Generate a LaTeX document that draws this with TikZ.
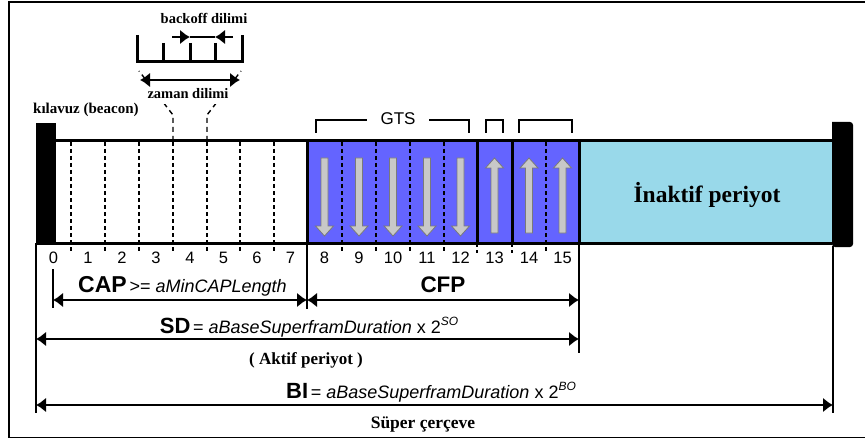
\documentclass[tikz,border=0pt]{standalone}
\usepackage{fontspec}
\setmainfont{Liberation Serif}
\setsansfont{Liberation Sans}
\usetikzlibrary{arrows.meta}

\definecolor{gtsblue}{HTML}{6464FF}
\definecolor{idleblue}{HTML}{99D9EA}
\definecolor{slotgray}{HTML}{C8C8C8}
\definecolor{slotedge}{HTML}{7A7A7A}
\newcommand{\fsz}[1]{\fontsize{#1}{#1}\selectfont}

\begin{document}
\begin{tikzpicture}[x=1pt,y=-1pt,
  thickline/.style={line width=3pt},
  longline/.style={line width=2.4pt},
  slotsep/.style={line width=1.4pt, dash pattern=on 4pt off 3pt},
  zoomline/.style={line width=1.4pt, dash pattern=on 5pt off 4pt},
  tipL/.style={-{Latex[length=10pt,width=15pt]}},
  dimarrow/.style={line width=2.4pt, {Latex[length=10pt,width=15pt]}-{Latex[length=10pt,width=15pt]}},
  serifbold/.style={font=\bfseries, inner sep=1pt},
  numlabel/.style={font=\sffamily\fsz{16.5}, anchor=base, inner sep=0pt},
  gtsarrow/.style={fill=slotgray, draw=slotedge, line width=0.8pt},
]
\useasboundingbox (0,0) rectangle (865,441);

% outer frame
\draw[line width=1.5pt] (865,2) -- (9,2) -- (9,437.5) -- (865,437.5);

% ---------- superframe bar ----------
\fill[white] (56,141) rectangle (307,243);
\fill[gtsblue] (307,141) rectangle (579,243);
\fill[idleblue] (579,141) rectangle (832,243);

% slot boundaries (dashed), continuing as short ticks under the bar
\foreach \x in {71,105,139,173,207,240,274,342,376,410,444,546}
  \draw[slotsep] (\x,142) -- (\x,253);
\foreach \x in {477,512}
  \draw[slotsep] (\x,243) -- (\x,253);

% GTS direction arrows
\foreach \c in {324.5,359,393,427,460.5}
  \draw[gtsarrow] (\c-3.5,158) -- (\c+3.5,158) -- (\c+3.5,226) -- (\c+9,226)
    -- (\c,236) -- (\c-9,226) -- (\c-3.5,226) -- cycle;
\foreach \c in {494.5,529,562.5}
  \draw[gtsarrow] (\c-3.5,233) -- (\c+3.5,233) -- (\c+3.5,168) -- (\c+9,168)
    -- (\c,158) -- (\c-9,168) -- (\c-3.5,168) -- cycle;

% thick separators and bar outline
\foreach \x in {307,477,512,579}
  \draw[thickline] (\x,141) -- (\x,243);
\draw[thickline] (56,141) -- (832,141);
\draw[thickline] (56,243) -- (832,243);

% beacon blocks
\fill[black] (36,123) rectangle (56,245);
\fill[black, rounded corners=3pt] (832,122) -- (853,122) -- (853,247) -- (832,247) [sharp corners] -- cycle;

\node[serifbold, font=\bfseries\fsz{23.5}, anchor=base] (idle) at (707,202) {İnaktif periyot};

% slot numbers
\foreach \n/\x in {0/53.5,1/88,2/122,3/156,4/190,5/223.5,6/257,7/290.5,
                   8/324.5,9/359,10/393,11/427,12/460.5,13/494.5,14/529,15/562.5}
  \node[numlabel] (n\n) at (\x,263) {\n};

% ---------- GTS brackets ----------
\draw[longline] (316,133) -- (316,120) -- (469,120) -- (469,133);
\draw[longline] (486,133) -- (486,120) -- (503,120) -- (503,133);
\draw[longline] (519,133) -- (519,120) -- (572,120) -- (572,133);
\node[fill=white, inner xsep=14pt, inner ysep=1pt, anchor=base, font=\sffamily\fsz{17}] (gts) at (398,125) {GTS};

% ---------- slot detail (backoff / time slot) ----------
\draw[zoomline] (173,141) -- (173,115) -- (139,71);
\draw[zoomline] (207,141) -- (207,115) -- (241,71);

\draw[thickline] (137,35) -- (137,62) -- (242,62) -- (242,35);
\foreach \x in {163,190,215}
  \draw[thickline] (\x,43) -- (\x,62);

\coordinate (boA) at (172,37);
\coordinate (boB) at (190,37);
\coordinate (boC) at (215,37);
\coordinate (boD) at (233,37);
\draw[line width=2.4pt] (boB) -- (boC);
\draw[line width=2.4pt, tipL] (boA) -- (boB);
\draw[line width=2.4pt, tipL] (boD) -- (boC);
\node[serifbold, font=\bfseries\fsz{14.5}, anchor=base] (backoff) at (204,24) {backoff dilimi};

\node[font=\bfseries\fsz{14.5}, anchor=base, fill=white, inner xsep=3pt, inner ysep=5pt] (slot) at (188,99) {zaman dilimi};
\coordinate (zdL) at (140,80);
\coordinate (zdR) at (240,80);
\draw[dimarrow] (zdL) -- (zdR);

\node[serifbold, font=\bfseries\fsz{15}, anchor=base west, inner sep=0pt] (beacon) at (33,114) {kılavuz (beacon)};

% ---------- dimension lines ----------
\draw[longline] (36,243) -- (36,413);
\draw[longline] (307,243) -- (307,309);
\draw[longline] (579,243) -- (579,353);
\draw[line width=2pt] (833,246) -- (833,413);
\draw[longline] (53,269) -- (53,308);

\coordinate (capL) at (53,300);
\coordinate (capR) at (307,300);
\coordinate (cfpR) at (579,300);
\coordinate (sdL) at (36,339);
\coordinate (sdR) at (579,339);
\coordinate (biL) at (36,405);
\coordinate (biR) at (833,405);
\draw[dimarrow] (capL) -- (capR);
\draw[dimarrow] (capR) -- (cfpR);
\draw[dimarrow] (sdL) -- (sdR);
\draw[dimarrow] (biL) -- (biR);

\node[anchor=base west, inner sep=0pt, font=\sffamily] (cap) at (78,292)
  {{\fsz{23}\bfseries CAP} {\fsz{18}>= \itshape aMinCAPLength}};
\node[anchor=base, inner sep=0pt, font=\sffamily\bfseries\fsz{22.5}] (cfp) at (443,292) {CFP};
\node[anchor=base, inner sep=0pt, font=\sffamily] (sd) at (309,333)
  {{\fsz{22}\bfseries SD} {\fsz{18}= \itshape aBaseSuperframDuration \upshape x 2\raisebox{8pt}{\fsz{12}\itshape SO}}};
\node[serifbold, font=\bfseries\fsz{17}, anchor=base] (active) at (306,364) {( Aktif periyot )};
\node[anchor=base, inner sep=0pt, font=\sffamily] (bi) at (431,398)
  {{\fsz{22}\bfseries BI} {\fsz{18}= \itshape aBaseSuperframDuration \upshape x 2\raisebox{8pt}{\fsz{12}\itshape BO}}};
\node[serifbold, font=\bfseries\fsz{17.5}, anchor=base] (super) at (423,428) {Süper çerçeve};
\end{tikzpicture}
\end{document}
